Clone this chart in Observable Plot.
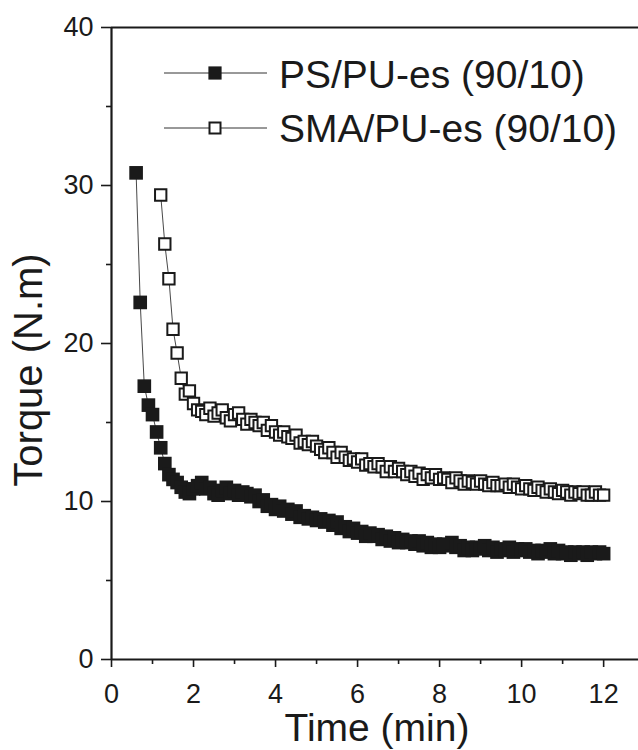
<!DOCTYPE html>
<html><head><meta charset="utf-8">
<script src="https://cdn.jsdelivr.net/npm/d3@7"></script>
<script src="https://cdn.jsdelivr.net/npm/@observablehq/plot@0.6"></script>
<style>body{margin:0;background:#fff} #chart{width:638px;height:750px}</style>
</head><body><div id="chart"></div>
<script>
const TIME = [0.6,0.7,0.8,0.9,1.0,1.1,1.2,1.3,1.4,1.5,1.6,1.7,1.8,1.9,2.0,2.1,2.2,2.3,2.4,2.5,2.6,2.7,2.8,2.9,3.0,3.1,3.2,3.3,3.4,3.5,3.6,3.7,3.8,3.9,4.0,4.1,4.2,4.3,4.4,4.5,4.6,4.7,4.8,4.9,5.0,5.1,5.2,5.3,5.4,5.5,5.6,5.7,5.8,5.9,6.0,6.1,6.2,6.3,6.4,6.5,6.6,6.7,6.8,6.9,7.0,7.1,7.2,7.3,7.4,7.5,7.6,7.7,7.8,7.9,8.0,8.1,8.2,8.3,8.4,8.5,8.6,8.7,8.8,8.9,9.0,9.1,9.2,9.3,9.4,9.5,9.6,9.7,9.8,9.9,10.0,10.1,10.2,10.3,10.4,10.5,10.6,10.7,10.8,10.9,11.0,11.1,11.2,11.3,11.4,11.5,11.6,11.7,11.8,11.9,12.0];
const PS = [30.8,22.6,17.3,16.1,15.5,14.4,13.4,12.4,11.7,11.4,11.2,10.9,10.6,10.5,10.8,11.0,11.2,10.8,10.9,10.5,10.4,10.7,10.9,10.5,10.7,10.4,10.6,10.5,10.3,10.4,10.0,10.1,9.7,9.8,9.5,9.7,9.4,9.5,9.2,9.4,9.0,9.1,8.9,9.0,8.8,8.9,8.7,8.8,8.5,8.7,8.3,8.4,8.1,8.3,8.0,8.1,7.8,8.0,7.8,7.9,7.6,7.8,7.5,7.7,7.4,7.6,7.4,7.5,7.3,7.5,7.2,7.4,7.1,7.3,7.1,7.3,7.2,7.4,7.1,7.2,6.9,7.1,6.9,7.1,7.0,7.2,6.9,7.1,6.8,7.0,6.9,7.1,6.8,7.0,6.9,7.0,6.8,6.9,6.7,6.9,6.8,7.0,6.7,6.9,6.7,6.8,6.6,6.8,6.7,6.8,6.6,6.8,6.7,6.8,6.7];
const SMA = [null,null,null,null,null,null,29.4,26.3,24.1,20.9,19.4,17.8,16.8,17.0,16.2,15.8,15.7,15.5,15.9,15.4,15.6,15.8,15.3,15.1,15.5,15.6,15.2,14.9,15.2,15.0,14.8,15.0,14.5,14.8,14.4,14.2,14.4,14.1,14.0,14.2,13.7,13.8,13.6,13.8,13.5,13.3,13.1,13.4,13.1,12.8,13.1,12.8,12.6,12.7,12.5,12.7,12.3,12.4,12.2,12.4,12.2,11.9,12.2,11.9,12.1,11.9,11.7,11.9,11.6,11.8,11.4,11.7,11.5,11.7,11.4,11.5,11.4,11.2,11.5,11.3,11.1,11.3,11.2,11.1,11.3,11.1,11.0,11.2,11.0,11.0,11.1,10.9,11.1,10.9,10.8,11.0,10.8,10.7,10.9,10.7,10.6,10.8,10.6,10.5,10.7,10.6,10.4,10.6,10.5,10.6,10.4,10.4,10.6,10.4,10.4];
const SERIES_NAMES = ["PS/PU-es (90/10)", "SMA/PU-es (90/10)"];
const X_TITLE = "Time (min)";
const Y_TITLE = "Torque (N.m)";
const X_MAJOR = [0,2,4,6,8,10,12];
const X_MINOR = [1,3,5,7,9,11];
const Y_MAJOR = [0,10,20,30,40];
const Y_MINOR = [5,15,25,35];

const psData = TIME.map((t,i)=>({t, v: PS[i]})).filter(d=>d.v!=null);
const smaData = TIME.map((t,i)=>({t, v: SMA[i]})).filter(d=>d.v!=null);

const INK = "#1a1a1a";
const FONT = "'Liberation Sans', Arial, Helvetica, sans-serif";

const chart = Plot.plot({
  width: 638, height: 750,
  marginLeft: 111, marginRight: 0, marginTop: 27, marginBottom: 91,
  style: {fontFamily: FONT, color: INK, background: "#fff"},
  x: {domain: [0, 12.85], label: null},
  y: {domain: [0, 40], label: null},
  marks: [
    Plot.axisX(X_MINOR, {tickSize: 5, text: null, strokeWidth: 1.6, stroke: INK, label: null}),
    Plot.axisX(X_MAJOR, {tickSize: 8, tickPadding: 16, fontSize: 27, strokeWidth: 1.6, stroke: INK, fill: INK, label: null}),
    Plot.axisY(Y_MINOR, {tickSize: 5, text: null, strokeWidth: 1.6, stroke: INK, label: null}),
    Plot.axisY(Y_MAJOR, {tickSize: 10, tickPadding: 8, fontSize: 27, strokeWidth: 1.6, stroke: INK, fill: INK, label: null}),
    Plot.ruleY([0, 40], {stroke: INK, strokeWidth: 2.2}),
    Plot.ruleX([0], {stroke: INK, strokeWidth: 2.2}),
    Plot.line(psData, {x: "t", y: "v", stroke: "#333", strokeWidth: 0.9}),
    Plot.dot(psData, {x: "t", y: "v", symbol: "square", r: 7.7, fill: INK, stroke: "none"}),
    Plot.line(smaData, {x: "t", y: "v", stroke: "#333", strokeWidth: 0.9}),
    Plot.dot(smaData, {x: "t", y: "v", symbol: "square", r: 6.4, fill: "#fff", stroke: INK, strokeWidth: 2})
  ]
});
document.getElementById("chart").appendChild(chart);

const svg = d3.select(chart);
// legend
const legendRows = [
  {name: SERIES_NAMES[0], filled: true, cy: 73, base: 88},
  {name: SERIES_NAMES[1], filled: false, cy: 128, base: 142}
];
legendRows.forEach(r => {
  svg.append("line").attr("x1", 164).attr("x2", 267).attr("y1", r.cy).attr("y2", r.cy)
     .attr("stroke", "#333").attr("stroke-width", 1);
  if (r.filled) {
    svg.append("rect").attr("x", 215 - 6.6).attr("y", r.cy - 6.6).attr("width", 13.2).attr("height", 13.2).attr("fill", INK);
  } else {
    svg.append("rect").attr("x", 215 - 5.5).attr("y", r.cy - 5.5).attr("width", 11).attr("height", 11)
       .attr("fill", "#fff").attr("stroke", INK).attr("stroke-width", 2);
  }
  svg.append("text").attr("x", 279).attr("y", r.base).attr("font-size", 39).attr("fill", INK)
     .attr("text-anchor", "start").attr("font-family", FONT).text(r.name);
});
// axis titles
svg.append("text").attr("x", 377).attr("y", 741).attr("text-anchor", "middle")
   .attr("font-size", 39).attr("fill", INK).attr("font-family", FONT).text(X_TITLE);
svg.append("text").attr("transform", "translate(42,370) rotate(-90)").attr("text-anchor", "middle")
   .attr("font-size", 40).attr("fill", INK).attr("font-family", FONT).text(Y_TITLE);
</script>
</body></html>
